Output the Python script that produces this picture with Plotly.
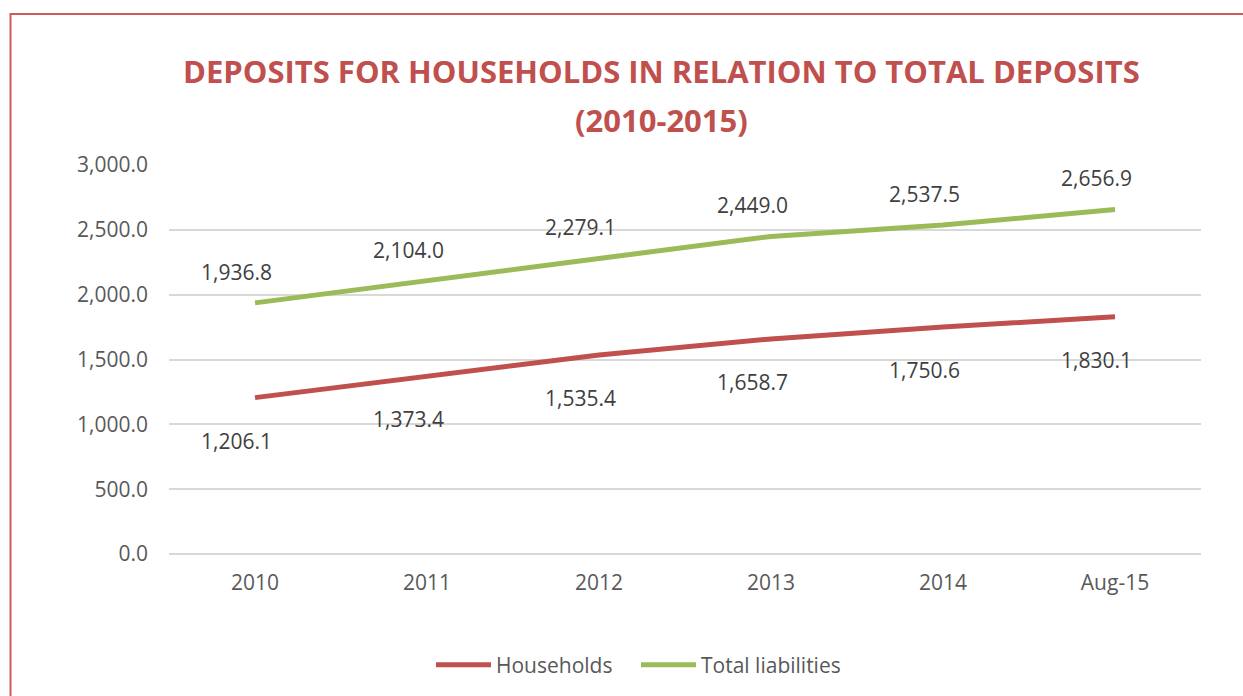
import plotly.graph_objects as go

categories = ["2010", "2011", "2012", "2013", "2014", "Aug-15"]
households = [1206.1, 1373.4, 1535.4, 1658.7, 1750.6, 1830.1]
total_liabilities = [1936.8, 2104.0, 2279.1, 2449.0, 2537.5, 2656.9]
y_ticks = [0, 500, 1000, 1500, 2000, 2500, 3000]
title_lines = ["DEPOSITS FOR HOUSEHOLDS IN RELATION TO TOTAL DEPOSITS", "(2010-2015)"]

RED = "#C0504D"
GREEN = "#9BBB59"
FONT = "Open Sans"

fig = go.Figure()
fig.add_trace(go.Scatter(x=categories, y=households, mode="lines", name="Households",
                         line=dict(color=RED, width=5)))
fig.add_trace(go.Scatter(x=categories, y=total_liabilities, mode="lines", name="Total liabilities",
                         line=dict(color=GREEN, width=5)))

annotations = []
for i, v in enumerate(total_liabilities):
    annotations.append(dict(x=i, y=v, xref="x", yref="y", text=f"{v:,.1f}", showarrow=False,
                            xshift=-19, yshift=31, font=dict(family=FONT, size=21, color="#404040")))
for i, v in enumerate(households):
    annotations.append(dict(x=i, y=v, xref="x", yref="y", text=f"{v:,.1f}", showarrow=False,
                            xshift=-19, yshift=-43, font=dict(family=FONT, size=21, color="#404040")))

title_x = (661 - 169) / 1032
for txt, ypx in zip(title_lines, [71, 120]):
    annotations.append(dict(x=title_x, y=(555 - ypx) / 390, xref="paper", yref="paper",
                            xanchor="center", yanchor="middle", text=f"<b>{txt}</b>", showarrow=False,
                            font=dict(family=FONT, size=31, color=RED)))

fig.update_layout(
    width=1243, height=696,
    margin=dict(l=169, r=42, t=165, b=141),
    paper_bgcolor="white", plot_bgcolor="white",
    xaxis=dict(type="category", range=[-0.5, 5.5], showgrid=False, showline=False, zeroline=False,
               ticks="", ticklabelstandoff=14,
               tickfont=dict(family=FONT, size=21, color="#595959")),
    yaxis=dict(range=[0, 3000], tickvals=y_ticks, tickformat=",.1f", showgrid=True,
               gridcolor="#D9D9D9", gridwidth=1.5, zeroline=True, zerolinecolor="#D9D9D9",
               zerolinewidth=1.5, showline=False, ticks="", ticklabelstandoff=20,
               tickfont=dict(family=FONT, size=21, color="#595959")),
    legend=dict(orientation="h", x=(636 - 169) / 1032, xanchor="center", y=(555 - 665) / 390,
                yanchor="middle", itemwidth=55, entrywidth=135, entrywidthmode="pixels",
                font=dict(family=FONT, size=21, color="#595959"),
                traceorder="normal"),
    annotations=annotations,
    shapes=[dict(type="path", xref="paper", yref="paper",
                 path=f"M {(10.5 - 169) / 1032} {-0.5} L {(10.5 - 169) / 1032} {(555 - 13.5) / 390} L 1.2 {(555 - 13.5) / 390}",
                 line=dict(color="#C95B59", width=2))],
    showlegend=True,
)

fig.write_html("out.html")
